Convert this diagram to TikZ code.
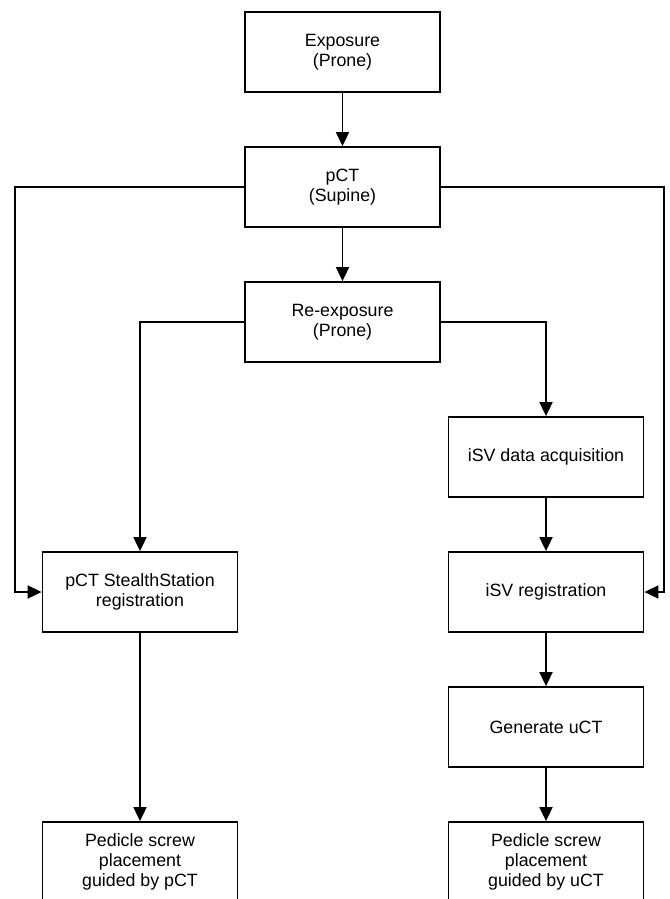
\documentclass[tikz,border=0pt]{standalone}
\usepackage{fontspec}
\setmainfont{Liberation Sans}
\usepackage{tikz}
\usetikzlibrary{arrows.meta,positioning}

\begin{document}
\begin{tikzpicture}[
    x = 1pt, y = 1pt,
    node distance = 135pt,
    every node/.style = {align=center, font=\fontsize{17.8}{20}\selectfont},
    box/.style = {draw, line width=1.8pt, minimum width=195pt, minimum height=80pt, inner sep=2pt},
    >={Triangle[length=14pt,width=13pt]},
    line width=1.8pt
  ]

  \useasboundingbox (0,0) rectangle (669,-899);

  \node[box] (exp) at (342.5,-52) {Exposure\\(Prone)};
  \node[box] (pct) [below of=exp] {pCT\\(Supine)};
  \node[box] (reexp) [below of=pct] {Re-exposure\\(Prone)};
  \node[box] (isvacq) [below of=reexp, xshift=203.5pt] {iSV data acquisition};
  \node[box] (isvreg) [below of=isvacq] {iSV registration};
  \node[box] (stealth) [below of=isvacq, xshift=-406pt] {pCT StealthStation\\registration};
  \node[box] (uct) [below of=isvreg] {Generate uCT};
  \node[box] (screwu) [below of=uct] {Pedicle screw\\placement\\guided by uCT};
  \node[box] (screwp) [below of=uct, xshift=-406pt] {Pedicle screw\\placement\\guided by pCT};

  % outer rails
  \coordinate (lftx) at (14.7,0);
  \coordinate (rgtx) at (663.7,0);

  \draw[->] (exp) -- (pct);
  \draw[->] (pct) -- (reexp);
  \draw[->] (pct.west) -- (pct.west -| lftx) |- (stealth.west);
  \draw[->] (pct.east) -- (pct.east -| rgtx) |- (isvreg.east);
  \draw[->] (reexp.west) -| (stealth.north);
  \draw[->] (reexp.east) -| (isvacq.north);
  \draw[->] (isvacq) -- (isvreg);
  \draw[->] (isvreg) -- (uct);
  \draw[->] (uct) -- (screwu);
  \draw[->] (stealth) -- (screwp);

\end{tikzpicture}
\end{document}
